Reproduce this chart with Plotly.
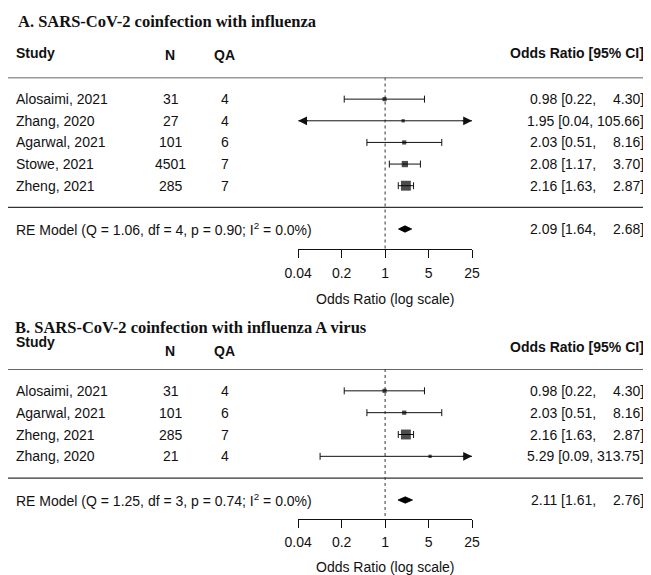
import numpy as np
import plotly.graph_objects as go

# ---------------- data ----------------
studies_a = ["Alosaimi, 2021", "Zhang, 2020", "Agarwal, 2021", "Stowe, 2021", "Zheng, 2021"]
n_a = [31, 27, 101, 4501, 285]
qa_a = [4, 4, 6, 7, 7]
or_a = [0.98, 1.95, 2.03, 2.08, 2.16]
lo_a = [0.22, 0.04, 0.51, 1.17, 1.63]
hi_a = [4.30, 105.66, 8.16, 3.70, 2.87]
re_a = [2.09, 1.64, 2.68]          # estimate, lower, upper
het_a = ["1.06", "4", "0.90", "0.0"]  # Q, df, p, I2

studies_b = ["Alosaimi, 2021", "Agarwal, 2021", "Zheng, 2021", "Zhang, 2020"]
n_b = [31, 101, 285, 21]
qa_b = [4, 6, 7, 4]
or_b = [0.98, 2.03, 2.16, 5.29]
lo_b = [0.22, 0.51, 1.63, 0.09]
hi_b = [4.30, 8.16, 2.87, 313.75]
re_b = [2.11, 1.61, 2.76]
het_b = ["1.25", "3", "0.74", "0.0"]

tick_vals = [0.04, 0.2, 1, 5, 25]
tick_text = ["0.04", "0.2", "1", "5", "25"]
titles = ["<b>A. SARS-CoV-2 coinfection with influenza</b>",
          "<b>B. SARS-CoV-2 coinfection with influenza A virus</b>"]

# ---------------- layout helpers ----------------
W, H = 651, 575
OX, OY = 8, 8          # page body margin of the html page
XMIN, XMAX = tick_vals[0], tick_vals[-1]
SANS = "Liberation Sans, Arial, sans-serif"
SERIF = "Liberation Serif, Times New Roman, serif"
INK = "#111111"
RIGHT_EDGE = 644.0     # right edge of the estimate column
COMMA_EDGE = 596.0     # right edge of the "est [lo," part


def px(x):
    return (x - OX) / W


def py(y):
    return 1 - (y - OY) / H


fig = go.Figure()
annotations = []
shapes = []

panels = [
    dict(st=studies_a, n=n_a, qa=qa_a, est=or_a, lo=lo_a, hi=hi_a, re=re_a, het=het_a,
         xa="x", ya="y", xk="xaxis", yk="yaxis",
         top_px=77.5, re_px=229.0, axis_px=249.0,
         title_y=21.5, title_x=18, study_y=53, nqa_y=54.5, orh_y=53, xt_y=298.5),
    dict(st=studies_b, n=n_b, qa=qa_b, est=or_b, lo=lo_b, hi=hi_b, re=re_b, het=het_b,
         xa="x2", ya="y2", xk="xaxis2", yk="yaxis2",
         top_px=369.0, re_px=500.0, axis_px=518.5,
         title_y=327, title_x=15, study_y=342, nqa_y=350.5, orh_y=346.5, xt_y=567),
]

for p_i, P in enumerate(panels):
    k = len(P["st"])
    rows = list(range(k, 0, -1))
    top_val = k + 1
    unit = (P["re_px"] - P["top_px"]) / (top_val + 1)
    ybot = -1 - (P["axis_px"] - P["re_px"]) / unit

    # axes
    fig.update_layout(**{
        P["xk"]: dict(type="log", range=[np.log10(XMIN), np.log10(XMAX)],
                      domain=[px(298.2), px(472.0)], anchor=P["ya"], automargin=False,
                      showgrid=False, zeroline=False, showline=True,
                      linecolor="#111", linewidth=1, ticks="outside", ticklen=8,
                      tickwidth=1, tickcolor="#111", tickvals=tick_vals,
                      ticktext=tick_text, ticklabelstandoff=3,
                      tickfont=dict(family=SANS, size=14, color=INK)),
        P["yk"]: dict(range=[ybot, top_val], domain=[py(P["axis_px"]), py(P["top_px"])],
                      anchor=P["xa"], visible=False, showgrid=False, zeroline=False,
                      automargin=False),
    })

    # reference dotted line at 1
    fig.add_trace(go.Scatter(x=[1, 1], y=[top_val, ybot], mode="lines",
                             line=dict(color="#333", width=1, dash="dot"),
                             xaxis=P["xa"], yaxis=P["ya"], hoverinfo="skip",
                             showlegend=False, cliponaxis=False))

    # separator lines
    for yv in (top_val, 0):
        shapes.append(dict(type="line", xref="paper", x0=0, x1=1, yref=P["ya"],
                           y0=yv, y1=yv, line=dict(color="#333", width=1.3)))

    # weights -> square sizes (metafor style: 1/se rescaled to 0.5-1.5)
    lo = np.array(P["lo"]); hi = np.array(P["hi"]); est = np.array(P["est"])
    se = (np.log(hi) - np.log(lo)) / (2 * 1.96)
    w = 1 / se
    psize = 0.5 + (w - w.min()) / (w.max() - w.min())

    # CI lines (clipped to axis limits)
    lx, ly = [], []
    cx, cy = [], []
    for i in range(k):
        a = max(lo[i], XMIN); b = min(hi[i], XMAX)
        lx += [a, b, None]; ly += [rows[i], rows[i], None]
        if lo[i] > XMIN:
            cx.append(lo[i]); cy.append(rows[i])
        else:
            annotations.append(dict(x=np.log10(XMIN), y=rows[i], xref=P["xa"], yref=P["ya"],
                                    ax=11, ay=0, text="", showarrow=True, arrowhead=2,
                                    arrowsize=1.6, arrowwidth=1.1, arrowcolor="#111"))
        if hi[i] < XMAX:
            cx.append(hi[i]); cy.append(rows[i])
        else:
            annotations.append(dict(x=np.log10(XMAX), y=rows[i], xref=P["xa"], yref=P["ya"],
                                    ax=-11, ay=0, text="", showarrow=True, arrowhead=2,
                                    arrowsize=1.6, arrowwidth=1.1, arrowcolor="#111"))
    fig.add_trace(go.Scatter(x=lx, y=ly, mode="lines", line=dict(color="#111", width=1),
                             xaxis=P["xa"], yaxis=P["ya"], showlegend=False,
                             hoverinfo="skip", cliponaxis=False))
    fig.add_trace(go.Scatter(x=cx, y=cy, mode="markers",
                             marker=dict(symbol="line-ns", size=5,
                                         line=dict(color="#111", width=1)),
                             xaxis=P["xa"], yaxis=P["ya"], showlegend=False,
                             hoverinfo="skip", cliponaxis=False))
    # squares
    fig.add_trace(go.Scatter(x=est, y=rows, mode="markers",
                             marker=dict(symbol="square", size=psize * 6.6, color="#000",
                                         line=dict(width=0)),
                             xaxis=P["xa"], yaxis=P["ya"], showlegend=False,
                             cliponaxis=False))
    # summary diamond
    e, l, u = P["re"]
    hdia = 3.2 / unit
    fig.add_trace(go.Scatter(x=[l, e, u, e, l], y=[-1, -1 + hdia, -1, -1 - hdia, -1],
                             mode="lines", fill="toself", fillcolor="#000",
                             line=dict(color="#000", width=0.8),
                             xaxis=P["xa"], yaxis=P["ya"], showlegend=False,
                             cliponaxis=False))

    # text columns
    def txt(x, y, s, anchor="left", yref="paper", bold=False, family=SANS, size=14):
        annotations.append(dict(x=x, y=y, xref="paper", yref=yref, text=(f"<b>{s}</b>" if bold else s),
                                showarrow=False, xanchor=anchor, yanchor="middle",
                                borderpad=0, borderwidth=0,
                                font=dict(family=family, size=size, color=INK)))

    def ci_text(y, e_, l_, u_):
        hs = f"{u_:.2f}]"
        if len(hs) >= 7:
            txt(px(RIGHT_EDGE), y, f"{e_:.2f} [{l_:.2f}, {hs}", anchor="right", yref=P["ya"])
        else:
            txt(px(COMMA_EDGE), y, f"{e_:.2f} [{l_:.2f},", anchor="right", yref=P["ya"])
            txt(px(RIGHT_EDGE), y, hs, anchor="right", yref=P["ya"])

    txt(px(P["title_x"]), py(P["title_y"]), titles[p_i], family=SERIF, size=16.5)
    txt(px(16), py(P["study_y"]), "Study", bold=True)
    txt(px(170), py(P["nqa_y"]), "N", anchor="center", bold=True)
    txt(px(224), py(P["nqa_y"]), "QA", anchor="center", bold=True)
    txt(px(RIGHT_EDGE), py(P["orh_y"]), "Odds Ratio [95% CI]", anchor="right", bold=True)

    for i in range(k):
        txt(px(16), rows[i], P["st"][i], yref=P["ya"])
        txt(px(170.5), rows[i], str(P["n"][i]), anchor="center", yref=P["ya"])
        txt(px(224.5), rows[i], str(P["qa"][i]), anchor="center", yref=P["ya"])
        ci_text(rows[i], est[i], lo[i], hi[i])

    Q, df, pv, I2 = P["het"]
    txt(px(16), -1, f"RE Model (Q = {Q}, df = {df}, p = {pv}; I<sup>2</sup> = {I2}%)", yref=P["ya"])
    ci_text(-1, e, l, u)

    txt(px(385), py(P["xt_y"]), "Odds Ratio (log scale)", anchor="center")

fig.update_layout(template="none", width=W, height=H, autosize=False,
                  margin=dict(l=0, r=0, t=0, b=0, pad=0, autoexpand=False),
                  paper_bgcolor="white", plot_bgcolor="white",
                  annotations=annotations, shapes=shapes, showlegend=False)

fig.write_html("out.html")
